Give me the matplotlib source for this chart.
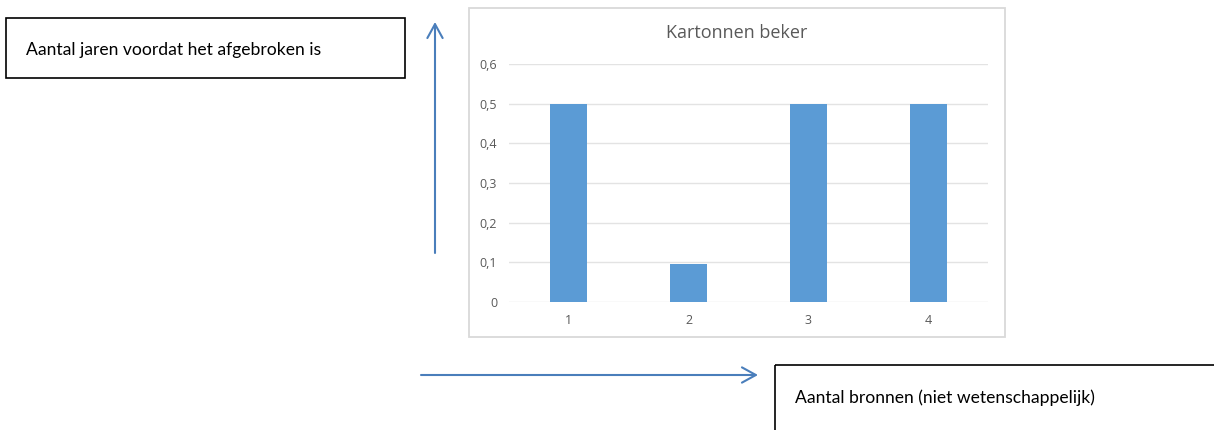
import matplotlib
matplotlib.use("Agg")
import matplotlib.pyplot as plt
from matplotlib.patches import Rectangle

# Kartonnen beker: jaren tot afbraak per bron
categories = ["1", "2", "3", "4"]
years = [0.5, 0.095, 0.5, 0.5]
y_ticks = [0, 0.1, 0.2, 0.3, 0.4, 0.5, 0.6]
y_tick_labels = ["0", "0,1", "0,2", "0,3", "0,4", "0,5", "0,6"]

title = "Kartonnen beker"
y_caption = "Aantal jaren voordat het afgebroken is"
x_caption = "Aantal bronnen (niet wetenschappelijk)"

W, H = 1214, 430
bar_color = "#5B9BD5"
grid_color = "#E3E3E3"
frame_color = "#D9D9D9"
text_gray = "#595959"
arrow_color = "#4A7EBB"

fig = plt.figure(figsize=(W / 100, H / 100), dpi=100)

# overlay in pixel coordinates for the frame, boxes and arrows
ov = fig.add_axes([0, 0, 1, 1], zorder=0)
ov.set_xlim(0, W)
ov.set_ylim(H, 0)
ov.axis("off")

# chart frame
ov.add_patch(Rectangle((469, 8), 536, 329, fill=False, edgecolor=frame_color, linewidth=1.3))

# bar chart
ax = fig.add_axes([509 / W, 1 - 302 / H, (988 - 509) / W, (302 - 64) / H], zorder=1)
ax.patch.set_alpha(0)
x = range(1, len(categories) + 1)
ax.bar(x, years, width=0.31, color=bar_color, zorder=2)
ax.set_xlim(0.5, len(categories) + 0.5)
ax.set_ylim(0, 0.6)
ax.set_xticks(list(x))
ax.set_xticklabels(categories)
ax.set_yticks(y_ticks)
ax.set_yticklabels(y_tick_labels)
ax.yaxis.grid(True, color=grid_color, linewidth=1.0, zorder=0)
ax.set_axisbelow(True)
for s in ax.spines.values():
    s.set_visible(False)
ax.tick_params(length=0, colors=text_gray, labelsize=9)
for lbl in ax.get_xticklabels() + ax.get_yticklabels():
    lbl.set_fontfamily("Open Sans")
ax.tick_params(axis="y", pad=8.5)
ax.tick_params(axis="x", pad=9)

ov.text(737, 33, title, ha="center", va="center", fontsize=13,
        color=text_gray, family="Open Sans")

# caption boxes
ov.add_patch(Rectangle((6, 18), 399, 60, fill=False, edgecolor="black", linewidth=1.2))
ov.text(26, 50, y_caption, ha="left", va="center", fontsize=12.6,
        color="black", family="Lato")

ov.add_patch(Rectangle((775, 365), 460, 80, fill=False, edgecolor="black", linewidth=1.2))
ov.text(795, 398, x_caption, ha="left", va="center", fontsize=12.6,
        color="black", family="Lato")

# axis arrows
arrow = dict(arrowstyle="->,head_length=1.0,head_width=0.55", color=arrow_color,
             linewidth=1.5, shrinkA=0, shrinkB=0)
ov.annotate("", xy=(435, 22), xytext=(435, 253), arrowprops=arrow)
ov.annotate("", xy=(758, 375), xytext=(421, 375), arrowprops=arrow)

fig.savefig("out.png", dpi=100)
